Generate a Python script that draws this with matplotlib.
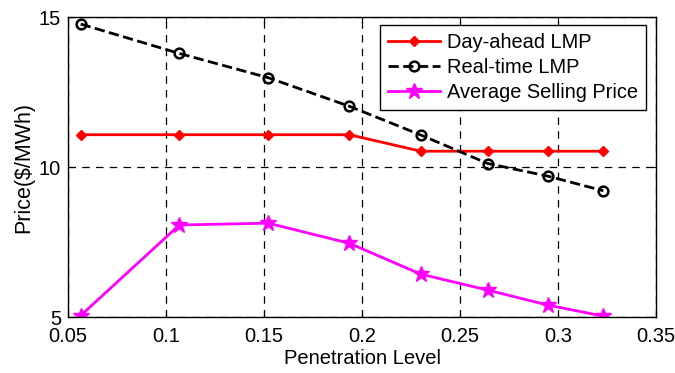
import matplotlib.pyplot as plt

plt.rcParams['font.family'] = ['Liberation Sans', 'DejaVu Sans']

# DATA
penetration = [0.0565, 0.1068, 0.1522, 0.1935, 0.2300, 0.2641, 0.2947, 0.3231]
day_ahead = [11.08, 11.08, 11.08, 11.08, 10.53, 10.53, 10.53, 10.53]
real_time = [14.77, 13.79, 12.98, 12.03, 11.07, 10.12, 9.70, 9.21]
avg_selling = [5.05, 8.07, 8.13, 7.46, 6.43, 5.90, 5.40, 5.03]

fig = plt.figure(figsize=(6.75, 3.73), dpi=100)
ax = fig.add_axes([0.1007, 0.150, 0.8713, 0.804])

ax.plot(penetration, day_ahead, color='#ff0000', linewidth=2, marker='D',
        markersize=5.5, label='Day-ahead LMP')
ax.plot(penetration, real_time, color='black', linewidth=2, linestyle='--',
        marker='o', markersize=7, markerfacecolor='none', markeredgewidth=1.8,
        label='Real-time LMP')
ax.plot(penetration, avg_selling, color='#ff00ff', linewidth=2, marker='*',
        markersize=12, label='Average Selling Price')

ax.set_xlim(0.05, 0.35)
ax.set_ylim(5, 15)
ax.set_xticks([0.05, 0.1, 0.15, 0.2, 0.25, 0.3, 0.35])
ax.set_xticklabels(['0.05', '0.1', '0.15', '0.2', '0.25', '0.3', '0.35'])
ax.set_yticks([5, 10, 15])
ax.grid(True, color='black', linestyle=(0, (6, 5)), linewidth=0.9)
ax.tick_params(direction='in', labelsize=14.5, length=4, top=True, right=True)
ax.tick_params(axis='x', pad=7)
ax.tick_params(axis='y', pad=5)
for s in ax.spines.values():
    s.set_linewidth(1)

ax.set_xlabel('Penetration Level', fontsize=14.5, labelpad=2)
ax.set_ylabel('Price($/MWh)', fontsize=15.5, labelpad=3)

leg = ax.legend(loc='upper right', bbox_to_anchor=(0.983, 0.973), borderaxespad=0,
                fontsize=14.4, fancybox=False, framealpha=1, edgecolor='black',
                handlelength=2.6, handletextpad=0.35, borderpad=0.4,
                labelspacing=0.3)
leg.get_frame().set_linewidth(1)

plt.savefig('out.png', dpi=100)
plt.close()
